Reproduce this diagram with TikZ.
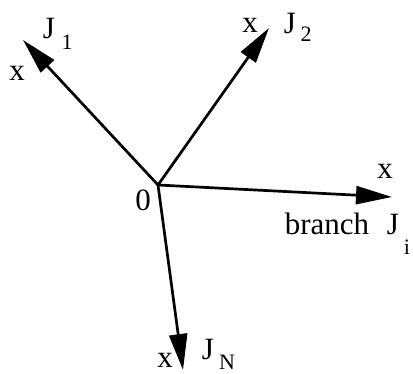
\documentclass[tikz,border=0pt]{standalone}
\usepackage{fontspec}
\setmainfont{Liberation Serif}
\usetikzlibrary{arrows.meta}
\tikzset{branch/.style={line width=2.7pt,-{Triangle[length=36pt,width=18pt]}},
lbl/.style={font=\fontsize{31}{33}\selectfont,inner sep=0pt},
sublbl/.style={font=\fontsize{22}{24}\selectfont,inner sep=0pt}}

\begin{document}
\begin{tikzpicture}[x=1pt,y=-1pt]
\useasboundingbox (0,0) rectangle (413,374);
\coordinate (o) at (158,185);
\coordinate (t1) at (23,40);
\coordinate (t2) at (269,28);
\coordinate (ti) at (392,197);
\coordinate (tN) at (183,370);
% branches
\draw[branch] (o) -- (t1);
\draw[branch] (o) -- (t2);
\draw[branch] (o) -- (ti);
\draw[branch] (o) -- (tN);
% labels
\node[lbl] (zero) at (143,200) {0};
\node[lbl] (x1) at (17,73) {x};
\node[lbl] (J1) at (49,29) {J};
\node[sublbl] (s1) at (67,42) {1};
\node[lbl] (x2) at (250,25) {x};
\node[lbl] (J2) at (290,24) {J};
\node[sublbl] (s2) at (306,34) {2};
\node[lbl] (xi) at (385,171) {x};
\node[lbl] (br) at (327,224) {branch};
\node[lbl] (Ji) at (393,225) {J};
\node[sublbl] (si) at (407,247) {i};
\node[lbl] (xN) at (165,360) {x};
\node[lbl] (JN) at (208,350) {J};
\node[sublbl] (sN) at (227,362) {N};
\end{tikzpicture}
\end{document}
